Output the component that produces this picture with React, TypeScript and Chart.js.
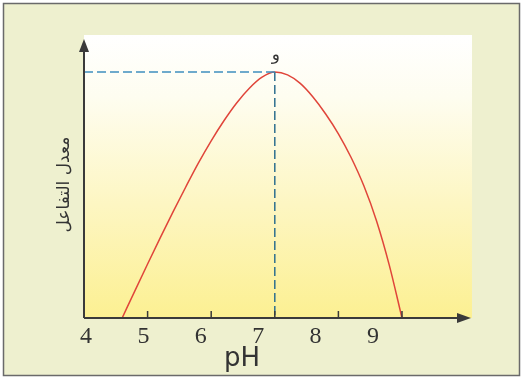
import { useEffect, useRef } from 'react';
import { Chart, registerables } from 'chart.js';

Chart.register(...registerables);

// Reaction rate (arbitrary units) against pH
const PH_VALUES = [4.6, 4.8, 5.0, 5.2, 5.4, 5.6, 5.8, 6.0, 6.2, 6.4, 6.6, 6.8, 7.0, 7.2, 7.4, 7.6, 7.8, 8.0, 8.2, 8.4, 8.6, 8.8, 9.0];
const RATE_VALUES = [0, 9.6, 19.1, 28.4, 37.5, 46.3, 54.8, 62.6, 69.7, 76.0, 81.2, 85.1, 86.9, 85.9, 82.9, 78.1, 72.1, 65.1, 56.7, 46.7, 34.3, 18.7, 0];

// Optimum point
const PEAK_PH = 7;
const PEAK_RATE = 86.9;
const PEAK_LABEL = 'و';

// Axis text
const TICK_LABELS = [4, 5, 6, 7, 8, 9];
const TICK_MARKS = [5, 6, 7, 8, 9];
const X_TITLE = 'pH';
const Y_TITLE = 'معدل التفاعل';

const AXIS_COLOR = '#3a3a3a';
const TEXT_COLOR = '#333333';

// Page background, frame and the shaded plotting panel
const framePlugin = {
  id: 'frame',
  beforeDraw(chart: any) {
    const { ctx, width, height, chartArea: a } = chart;
    ctx.save();
    ctx.fillStyle = '#ffffff';
    ctx.fillRect(0, 0, width, height);
    ctx.fillStyle = '#eef0cf';
    ctx.fillRect(4, 4, width - 8, height - 7);
    ctx.strokeStyle = '#6a6a6a';
    ctx.lineWidth = 1.5;
    ctx.strokeRect(3.5, 3.5, width - 8, height - 6);

    const g = ctx.createLinearGradient(0, a.top, 0, a.bottom);
    g.addColorStop(0, '#ffffff');
    g.addColorStop(0.22, '#fefdf0');
    g.addColorStop(0.6, '#fdf6c2');
    g.addColorStop(1, '#fcf092');
    ctx.fillStyle = g;
    ctx.fillRect(a.left, a.top, a.right - a.left + 1, a.bottom - a.top);
    ctx.restore();
  },
};

// Axis lines with arrow heads, inward tick marks and the optimum label
const axesPlugin = {
  id: 'arrowAxes',
  afterDatasetsDraw(chart: any) {
    const { ctx, chartArea: a, scales } = chart;
    const xs = scales.x;
    const ys = scales.y;
    const x0 = xs.getPixelForValue(4);
    const y0 = ys.getPixelForValue(0);
    ctx.save();
    ctx.strokeStyle = AXIS_COLOR;
    ctx.fillStyle = AXIS_COLOR;
    ctx.lineWidth = 2;

    ctx.beginPath();
    ctx.moveTo(x0, y0);
    ctx.lineTo(x0, a.top + 14);
    ctx.moveTo(x0, y0);
    ctx.lineTo(a.right - 12, y0);
    ctx.stroke();

    // arrow heads
    ctx.beginPath();
    ctx.moveTo(x0, a.top + 4);
    ctx.lineTo(x0 - 5, a.top + 17);
    ctx.lineTo(x0 + 5, a.top + 17);
    ctx.closePath();
    ctx.fill();
    ctx.beginPath();
    ctx.moveTo(a.right, y0);
    ctx.lineTo(a.right - 14, y0 - 5);
    ctx.lineTo(a.right - 14, y0 + 5);
    ctx.closePath();
    ctx.fill();

    // tick marks pointing into the plot
    ctx.lineWidth = 1.5;
    ctx.beginPath();
    TICK_MARKS.forEach((v) => {
      const px = xs.getPixelForValue(v);
      ctx.moveTo(px, y0);
      ctx.lineTo(px, y0 - 7);
    });
    ctx.stroke();

    // optimum label
    ctx.fillStyle = TEXT_COLOR;
    ctx.font = '17px "DejaVu Sans"';
    ctx.textAlign = 'center';
    ctx.textBaseline = 'middle';
    ctx.fillText(PEAK_LABEL, xs.getPixelForValue(PEAK_PH) + 1, ys.getPixelForValue(PEAK_RATE) - 16);
    ctx.restore();
  },
};

export default function App() {
  const canvasRef = useRef<HTMLCanvasElement | null>(null);

  useEffect(() => {
    const canvas = canvasRef.current;
    if (!canvas) return;

    const curve = PH_VALUES.map((p, i) => ({ x: p, y: RATE_VALUES[i] }));

    const chart = new Chart(canvas, {
      type: 'line',
      data: {
        datasets: [
          {
            data: [
              { x: 4, y: PEAK_RATE },
              { x: PEAK_PH, y: PEAK_RATE },
            ],
            borderColor: '#3f8fbf',
            borderWidth: 1.5,
            borderDash: [9, 4],
            pointRadius: 0,
            xAxisID: 'x',
            yAxisID: 'y',
          },
          {
            data: [
              { x: PEAK_PH, y: PEAK_RATE },
              { x: PEAK_PH, y: 0 },
            ],
            borderColor: '#2f6f8f',
            borderWidth: 1.5,
            borderDash: [9, 4],
            pointRadius: 0,
            xAxisID: 'x',
            yAxisID: 'y',
          },
          {
            data: curve,
            borderColor: '#e0453a',
            borderWidth: 1.5,
            pointRadius: 0,
            cubicInterpolationMode: 'monotone',
            xAxisID: 'x',
            yAxisID: 'y',
          },
        ],
      },
      options: {
        responsive: false,
        animation: false,
        events: [],
        layout: { padding: { left: 13, right: 53, top: 35, bottom: 0 } },
        plugins: {
          legend: { display: false },
          tooltip: { enabled: false },
          title: {
            display: true,
            text: X_TITLE,
            position: 'bottom',
            color: TEXT_COLOR,
            font: { family: '"DejaVu Sans"', size: 26, weight: 'normal', lineHeight: 0.7 },
            padding: { top: 2.5, bottom: 9.3 },
          },
        },
        scales: {
          x: {
            type: 'linear',
            min: 4,
            max: 10.085,
            display: false,
            weight: 0,
          },
          xLabels: {
            type: 'linear',
            position: 'bottom',
            weight: 1,
            min: 3.965,
            max: 10.707,
            grid: { display: false, drawTicks: false, tickLength: 0 },
            border: { display: false },
            afterBuildTicks: (s: any) => {
              s.ticks = TICK_LABELS.map((v) => ({ value: v }));
            },
            afterFit: (s: any) => {
              s.height = 30;
            },
            ticks: {
              autoSkip: false,
              maxRotation: 0,
              padding: 4,
              color: TEXT_COLOR,
              font: { family: '"Liberation Serif"', size: 24 },
              callback: (v: any) => String(v),
            },
          },
          y: {
            type: 'linear',
            min: 0,
            max: 100,
            grid: { display: false },
            border: { display: false },
            ticks: { display: false },
            afterFit: (s: any) => {
              s.width = 71;
            },
            title: {
              display: true,
              text: Y_TITLE + '\u00A0\u00A0\u00A0',
              color: TEXT_COLOR,
              font: { family: '"DejaVu Sans"', size: 17 },
              padding: { top: 41, bottom: 0 },
            },
          },
        },
      },
      plugins: [framePlugin, axesPlugin],
    });

    return () => chart.destroy();
  }, []);

  return (
    <div style={{ position: 'fixed', left: 0, top: 0, width: 524, height: 378 }}>
      <canvas ref={canvasRef} width={524} height={378} style={{ display: 'block' }} />
    </div>
  );
}
